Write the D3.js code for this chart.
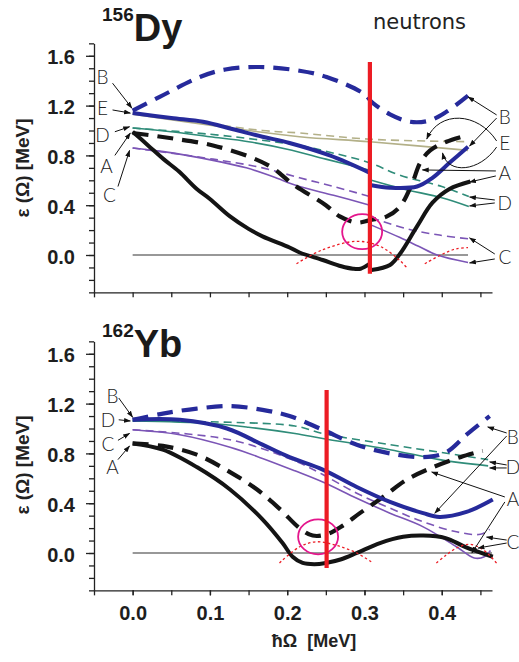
<!DOCTYPE html>
<html>
<head>
<meta charset="utf-8">
<script src="https://cdn.jsdelivr.net/npm/d3@7/dist/d3.min.js"></script>
<style>
  body { margin: 0; background: #fff; }
  svg text { font-family: "Liberation Sans", Arial, sans-serif; }
</style>
</head>
<body>
<svg id="chart" width="519" height="662"></svg>
<script>
// Quasiparticle routhians ε(Ω) of neutrons versus rotational frequency ħΩ
// for 156Dy and 162Yb. Each series is a list of [ħΩ, ε] points in MeV;
// a null entry breaks the line (jump at the crossing frequency).

const xDomain = [-0.05, 0.465];
const yDomain = [-0.3, 1.7];
const xTickValues = [-0.05, 0, 0.05, 0.1, 0.15, 0.2, 0.25, 0.3, 0.35, 0.4, 0.45];
const xTickLabels = [0, 0.1, 0.2, 0.3, 0.4];
const yMinorTicks = [-0.3,-0.2,-0.1,0,0.1,0.2,0.3,0.4,0.5,0.6,0.7,0.8,0.9,1.0,1.1,1.2,1.3,1.4,1.5,1.6,1.7];
const yMajorTicks = [0, 0.4, 0.8, 1.2, 1.6];

// ---------- 156Dy ----------
const dyB_dash = [[0,1.16],[0.035,1.27],[0.087,1.43],[0.12,1.49],[0.164,1.51],[0.216,1.48],[0.251,1.43],[0.298,1.30],[0.311,1.22],[0.333,1.13],[0.359,1.07],[0.384,1.08],[0.406,1.15],[0.434,1.28]];
const dyB_solid = [[0,1.14],[0.05,1.10],[0.091,1.07],[0.13,1.01],[0.168,0.95],[0.203,0.90],[0.255,0.80],[0.307,0.66], null, [0.309,0.56],[0.333,0.54],[0.368,0.55],[0.388,0.62],[0.41,0.74],[0.434,0.87]];
const dyE_solid = [[0,1.13],[0.126,1.02],[0.216,0.95],[0.307,0.91],[0.434,0.84]];
const dyE_dash = [[0,1.14],[0.168,1.00],[0.216,0.98],[0.307,0.93],[0.434,0.91]];
const dyD_solid = [[0,1.02],[0.05,0.99],[0.1,0.95],[0.15,0.91],[0.2,0.85],[0.25,0.77],[0.307,0.68], null, [0.309,0.60],[0.35,0.53],[0.4,0.46],[0.435,0.39]];
const dyD_dash = [[0,1.02],[0.1,0.97],[0.17,0.92],[0.216,0.88],[0.259,0.82],[0.307,0.74],[0.346,0.64],[0.4,0.55],[0.435,0.47]];
const dyA_dash = [[0,0.98],[0.048,0.94],[0.104,0.88],[0.155,0.78],[0.181,0.70],[0.207,0.57],[0.25,0.40],[0.268,0.31],[0.29,0.26],[0.307,0.28],[0.329,0.31],[0.346,0.39],[0.362,0.58],[0.372,0.74],[0.385,0.84],[0.406,0.91],[0.432,0.96]];
const dyA_solid = [[0,0.99],[0.02,0.88],[0.04,0.77],[0.06,0.67],[0.083,0.53],[0.1,0.45],[0.126,0.31],[0.15,0.21],[0.168,0.15],[0.203,0.06],[0.216,0.02],[0.246,-0.04],[0.27,-0.09],[0.285,-0.11],[0.295,-0.11],[0.307,-0.07], null, [0.309,-0.12],[0.333,-0.08],[0.346,0.01],[0.368,0.23],[0.388,0.42],[0.41,0.53],[0.437,0.59]];
const dyC_solid = [[0,0.86],[0.04,0.83],[0.104,0.76],[0.147,0.70],[0.181,0.63],[0.216,0.55],[0.26,0.48],[0.307,0.40], null, [0.309,0.24],[0.346,0.14],[0.37,0.07],[0.394,0.0],[0.434,-0.06]];
const dyC_dash = [[0,0.86],[0.104,0.77],[0.168,0.70],[0.216,0.62],[0.26,0.55],[0.307,0.47], null, [0.309,0.30],[0.355,0.21],[0.397,0.16],[0.434,0.13]];
const dyDot1 = [[0.212,-0.07],[0.245,0.04],[0.29,0.11],[0.32,0.07],[0.345,-0.04],[0.356,-0.11]];
const dyDot2 = [[0.378,-0.07],[0.402,0.01],[0.419,0.05],[0.434,0.06]];
const dyZero = [[0,0],[0.434,0]];
const dyCrossing = 0.307;          // ħΩ of the vertical marker
const dyCrossSpan = [-0.15, 1.55];
const dyRing = [0.297, 0.187];

// ---------- 162Yb ----------
const ybB_dash = [[0,1.07],[0.039,1.12],[0.083,1.16],[0.126,1.18],[0.168,1.15],[0.203,1.10],[0.246,0.99],[0.29,0.87],[0.333,0.80],[0.376,0.77],[0.406,0.81],[0.432,0.95],[0.462,1.10]];
const ybB_solid = [[0,1.07],[0.061,1.07],[0.122,1.00],[0.168,0.87],[0.203,0.77],[0.246,0.67],[0.29,0.53],[0.333,0.41],[0.376,0.32],[0.397,0.29],[0.432,0.33],[0.466,0.43]];
const ybD_solid = [[0,1.06],[0.1,1.04],[0.15,1.01],[0.21,0.96],[0.246,0.92],[0.333,0.83],[0.397,0.75],[0.46,0.70]];
const ybD_dash = [[0,1.06],[0.126,1.05],[0.21,1.02],[0.246,0.96],[0.333,0.87],[0.397,0.81],[0.46,0.75]];
const ybC_dash = [[0,0.99],[0.126,0.91],[0.21,0.74],[0.246,0.63],[0.29,0.48],[0.333,0.36],[0.376,0.25],[0.419,0.17],[0.45,0.15],[0.462,0.19]];
const ybC_solid = [[0,0.99],[0.061,0.95],[0.126,0.85],[0.168,0.76],[0.21,0.66],[0.246,0.57],[0.29,0.44],[0.333,0.32],[0.376,0.21],[0.419,0.05],[0.442,-0.04],[0.455,-0.03],[0.463,0.02]];
const ybA_dash = [[0,0.88],[0.039,0.86],[0.083,0.79],[0.126,0.65],[0.161,0.51],[0.191,0.35],[0.216,0.20],[0.233,0.14],[0.251,0.15],[0.272,0.22],[0.294,0.32],[0.324,0.45],[0.355,0.59],[0.389,0.69],[0.424,0.77],[0.453,0.82]];
const ybA_solid = [[0,0.88],[0.039,0.83],[0.083,0.69],[0.126,0.51],[0.168,0.27],[0.194,0.08],[0.207,-0.03],[0.22,-0.08],[0.235,-0.09],[0.25,-0.08],[0.27,-0.05],[0.29,0.0],[0.32,0.08],[0.35,0.13],[0.376,0.14],[0.405,0.12],[0.43,0.05],[0.466,-0.03]];
const ybDot1 = [[0.19,-0.08],[0.216,0.05],[0.238,0.09],[0.264,0.06],[0.29,0.0],[0.311,-0.08]];
const ybDot2 = [[0.393,-0.08],[0.405,-0.02],[0.419,0.04],[0.435,0.07],[0.45,0.04],[0.462,-0.02],[0.472,-0.09]];
const ybZero = [[0,0],[0.465,0]];
const ybCrossing = 0.251;
const ybCrossSpan = [-0.12, 1.31];
const ybRing = [0.24, 0.13];

// Letter labels: [letter, ħΩ, ε]
const dyLabels = [["B",-0.039,1.43],["E",-0.039,1.18],["D",-0.039,0.96],["A",-0.034,0.71],["C",-0.030,0.48],
                  ["B",0.4816,1.11],["E",0.4816,0.90],["A",0.4816,0.66],["D",0.4816,0.42],["C",0.4816,-0.02]];
const ybLabels = [["B",-0.026,1.26],["D",-0.032,1.07],["C",-0.032,0.875],["A",-0.026,0.69],
                  ["B",0.492,0.93],["D",0.492,0.69],["A",0.492,0.43],["C",0.492,0.09]];
// Straight pointer arrows: [fromΩ, fromε, toΩ, toε]
const dyArrows = [[-0.026,1.38,-0.001,1.18],[-0.026,1.165,-0.003,1.14],[-0.023,0.99,-0.004,1.03],[-0.023,0.80,-0.003,0.98],[-0.019,0.55,-0.004,0.84],
                  [0.471,1.125,0.434,1.27],[0.471,1.10,0.436,0.875],
                  [0.47,0.675,0.375,0.683],[0.47,0.635,0.436,0.586],
                  [0.4686,0.442,0.436,0.466],[0.4686,0.418,0.436,0.394],
                  [0.4686,0.008,0.436,0.137],[0.4686,-0.032,0.436,-0.064]];
// Curved pointer arrows (cubic Bézier control points in [ħΩ, ε])
const dyCurvedArrows = [[[0.471,0.916],[0.4466,1.149],[0.397,1.165],[0.3806,0.932]],
                        [[0.471,0.867],[0.449,0.667],[0.408,0.643],[0.401,0.819]]];
const ybArrows = [[-0.018,1.245,0.0,1.09],[-0.018,1.07,-0.003,1.06],[-0.019,0.905,-0.004,0.96],[-0.019,0.75,-0.004,0.86],
                  [0.484,0.964,0.4595,1.012],[0.484,0.94,0.391,0.32],
                  [0.484,0.707,0.462,0.731],[0.484,0.683,0.462,0.683],
                  [0.4816,0.45,0.387,0.65],[0.4816,0.41,0.439,0.0],
                  [0.484,0.104,0.458,0.128],[0.484,0.08,0.447,0.04]];

// Line styles
const BLUE = "#262a9b", KHAKI = "#b3b088", TEAL = "#2f8c79", PURPLE = "#7b55b6",
      BLACK = "#141414", RED = "#ec1c24", MAGENTA = "#e4168c";
const thick = { width: 4, dash: null };
const thickDash = { width: 4.2, dash: "16,9" };
const thin = { width: 1.6, dash: null };
const thinDash = { width: 1.6, dash: "8,5" };

const svg = d3.select("#chart");

const x = d3.scaleLinear().domain(xDomain).range([94, 492]);

function panel(cfg) {
  const y = d3.scaleLinear().domain(yDomain).range([cfg.y0 + 0.3 * 124.5, cfg.y0 - 1.7 * 124.5]);
  const g = svg.append("g");

  // axes
  const yMinor = d3.axisLeft(y).tickValues(yMinorTicks).tickSize(5).tickSizeOuter(0).tickFormat("");
  const yMajor = d3.axisLeft(y).tickValues(yMajorTicks).tickSize(8).tickSizeOuter(0).tickPadding(11).tickFormat(d3.format(".1f"));
  g.append("g").attr("transform", "translate(94,0)").call(yMinor);
  const ym = g.append("g").attr("transform", "translate(94,0)").call(yMajor);
  ym.select(".domain").remove();
  ym.selectAll("text").attr("font-size", 20).attr("font-weight", "bold").attr("fill", "#1e1e1e")
    .attr("font-family", "'Liberation Sans', Arial, sans-serif").attr("dy", "0.4em");

  const xAx = d3.axisBottom(x).tickValues(xTickValues).tickSize(5).tickSizeOuter(0).tickFormat("");
  g.append("g").attr("transform", `translate(0,${y(-0.3)})`).call(xAx);
  if (cfg.xLabels) {
    const xl = d3.axisBottom(x).tickValues(xTickLabels).tickSize(5).tickPadding(10).tickFormat(d3.format(".1f"));
    const gl = g.append("g").attr("transform", `translate(0,${y(-0.3)})`).call(xl);
    gl.select(".domain").remove();
    gl.selectAll("text").attr("font-size", 20).attr("font-weight", "bold").attr("fill", "#1e1e1e")
      .attr("font-family", "'Liberation Sans', Arial, sans-serif");
  }
  g.selectAll(".domain, .tick line").attr("stroke", "#222").attr("stroke-width", 1.3);

  // zero reference line
  const line = d3.line().defined(d => d).x(d => x(d[0])).y(d => y(d[1]));
  const smooth = d3.line().defined(d => d).x(d => x(d[0])).y(d => y(d[1])).curve(d3.curveCatmullRom.alpha(0.5));
  g.append("path").attr("d", line(cfg.zero)).attr("stroke", "#333").attr("stroke-width", 1.1).attr("fill", "none");

  // routhians
  cfg.series.forEach(s => {
    g.append("path").attr("d", smooth(s.data)).attr("fill", "none")
      .attr("stroke", s.color).attr("stroke-width", s.style.width)
      .attr("stroke-dasharray", s.style.dash).attr("stroke-linecap", "butt").attr("stroke-linejoin", "round");
  });

  // dotted parabolas
  cfg.dots.forEach(d => {
    g.append("path").attr("d", smooth(d)).attr("fill", "none")
      .attr("stroke", RED).attr("stroke-width", 1.3).attr("stroke-dasharray", "2.5,2.5");
  });

  // ring around the crossing
  g.append("ellipse").attr("cx", x(cfg.ring[0])).attr("cy", y(cfg.ring[1]))
    .attr("rx", 20).attr("ry", 17.5).attr("fill", "none").attr("stroke", MAGENTA).attr("stroke-width", 1.8);

  // crossing frequency
  g.append("line").attr("x1", x(cfg.crossing)).attr("x2", x(cfg.crossing))
    .attr("y1", y(cfg.crossSpan[0])).attr("y2", y(cfg.crossSpan[1]))
    .attr("stroke", RED).attr("stroke-width", 4.2);

  // pointer arrows
  cfg.arrows.forEach(a => {
    g.append("line").attr("x1", x(a[0])).attr("y1", y(a[1])).attr("x2", x(a[2])).attr("y2", y(a[3]))
      .attr("stroke", "#111").attr("stroke-width", 1).attr("marker-end", "url(#arrowhead)");
  });
  (cfg.curved || []).forEach(c => {
    const p = c.map(q => [x(q[0]), y(q[1])]);
    g.append("path").attr("d", `M${p[0]}C${p[1]} ${p[2]} ${p[3]}`).attr("fill", "none")
      .attr("stroke", "#111").attr("stroke-width", 1).attr("marker-end", "url(#arrowhead)");
  });

  // letters
  g.selectAll("text.lbl").data(cfg.labels).enter().append("text").attr("class", "lbl")
    .attr("x", d => x(d[1])).attr("y", d => y(d[2])).attr("dy", "0.36em")
    .attr("text-anchor", "middle").attr("font-size", 19).attr("font-weight", 300)
    .attr("fill", "#222").style("font-family", "Lato, 'DejaVu Sans', sans-serif").text(d => d[0]);

  // nucleus title
  const t = g.append("text").attr("x", 102).attr("y", cfg.titleY).attr("font-weight", "bold").attr("fill", "#1a1a1a");
  t.append("tspan").attr("font-size", 19).attr("dy", -20).text(cfg.mass);
  t.append("tspan").attr("font-size", 38).attr("dy", 20).text(cfg.element);

  // y-axis title
  g.append("text").attr("transform", `translate(29,${cfg.yTitleCenter}) rotate(-90)`)
    .attr("text-anchor", "middle").attr("font-size", 19).attr("font-weight", "bold").attr("fill", "#222")
    .text("ε (Ω) [MeV]");
}

svg.append("defs").append("marker").attr("id", "arrowhead").attr("viewBox", "0 0 10 10")
  .attr("refX", 9).attr("refY", 5).attr("markerWidth", 7).attr("markerHeight", 7)
  .attr("markerUnits", "userSpaceOnUse").attr("orient", "auto")
  .append("path").attr("d", "M0,1.5L10,5L0,8.5Z").attr("fill", "#111");

panel({
  y0: 255, mass: "156", element: "Dy", titleY: 41, yTitleCenter: 168, xLabels: false,
  zero: dyZero, dots: [dyDot1, dyDot2], ring: dyRing, crossing: dyCrossing, crossSpan: dyCrossSpan,
  labels: dyLabels, arrows: dyArrows, curved: dyCurvedArrows,
  series: [
    { data: dyE_solid, color: KHAKI, style: thin },
    { data: dyE_dash, color: KHAKI, style: thinDash },
    { data: dyD_solid, color: TEAL, style: thin },
    { data: dyD_dash, color: TEAL, style: thinDash },
    { data: dyC_solid, color: PURPLE, style: thin },
    { data: dyC_dash, color: PURPLE, style: thinDash },
    { data: dyA_dash, color: BLACK, style: thickDash },
    { data: dyA_solid, color: BLACK, style: thick },
    { data: dyB_solid, color: BLUE, style: thick },
    { data: dyB_dash, color: BLUE, style: thickDash }
  ]
});

panel({
  y0: 553, mass: "162", element: "Yb", titleY: 357, yTitleCenter: 465, xLabels: true,
  zero: ybZero, dots: [ybDot1, ybDot2], ring: ybRing, crossing: ybCrossing, crossSpan: ybCrossSpan,
  labels: ybLabels, arrows: ybArrows,
  series: [
    { data: ybD_solid, color: TEAL, style: thin },
    { data: ybD_dash, color: TEAL, style: thinDash },
    { data: ybC_solid, color: PURPLE, style: thin },
    { data: ybC_dash, color: PURPLE, style: thinDash },
    { data: ybA_dash, color: BLACK, style: thickDash },
    { data: ybA_solid, color: BLACK, style: thick },
    { data: ybB_solid, color: BLUE, style: thick },
    { data: ybB_dash, color: BLUE, style: thickDash }
  ]
});

// panel caption and frequency axis title
svg.append("text").attr("x", 373).attr("y", 29).attr("font-size", 21).attr("fill", "#222")
  .style("font-family", "'DejaVu Sans', sans-serif").text("neutrons");
svg.append("text").attr("x", 314).attr("y", 647).attr("text-anchor", "middle")
  .attr("font-size", 18).attr("font-weight", "bold").attr("fill", "#222").attr("xml:space", "preserve")
  .style("white-space", "pre").text("ħΩ  [MeV]");
</script>
</body>
</html>
